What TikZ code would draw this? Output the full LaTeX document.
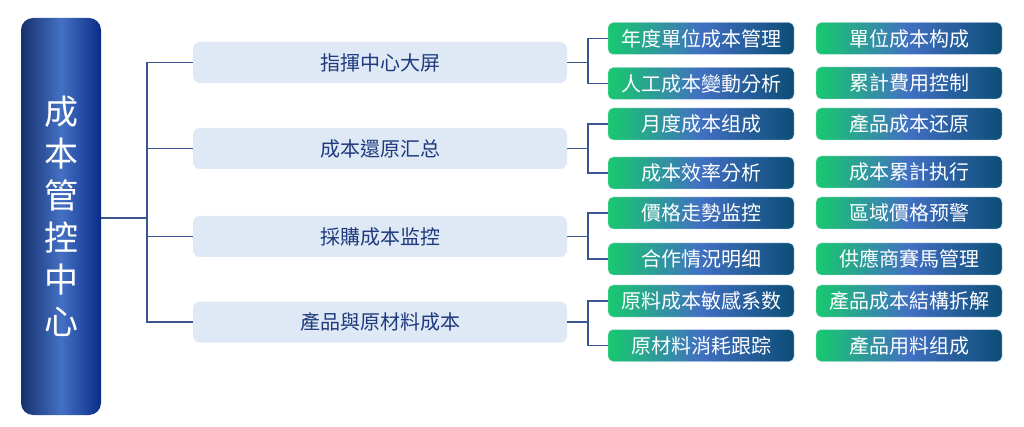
\documentclass[tikz,border=0pt]{standalone}
\usepackage{fontspec}
\setmainfont{Noto Sans CJK TC}
\begin{document}
\begin{tikzpicture}[x=1pt,y=-1pt,
  conn/.style={draw=lineblue,line width=1.1pt},
  mainbox/.style={rounded corners=12pt,left color=navyL,right color=navyR,middle color=navyM,minimum width=80pt,minimum height=397pt,inner sep=0pt},
  midbox/.style={rounded corners=7pt,fill=midfill,minimum width=374pt,minimum height=41pt,inner sep=0pt,text=midtext,font=\fontsize{20}{22}\selectfont},
  leaf/.style={rounded corners=5pt,left color=leafL,right color=leafR,middle color=leafM,draw=white!80!leafM,line width=0.4pt,minimum width=186pt,minimum height=32pt,inner sep=0pt,text=white,font=\fontsize{20}{22}\selectfont}]
\definecolor{navyL}{HTML}{16306E}
\definecolor{navyM}{HTML}{4471C4}
\definecolor{navyR}{HTML}{0A2C86}
\definecolor{midfill}{HTML}{DEE9F5}
\definecolor{midtext}{HTML}{1F3A7E}
\definecolor{lineblue}{HTML}{3A5590}
\definecolor{leafL}{HTML}{18C96E}
\definecolor{leafM}{HTML}{4170C2}
\definecolor{leafR}{HTML}{0C4D76}
\useasboundingbox (0,0) rectangle (1024,427);
\fill[white] (0,0) rectangle (1024,427);
% main
\node[mainbox] (main) at (61,216.5) {};
\node[text=white,font=\fontsize{34}{42}\selectfont,align=center] (maintxt) at (61,216) {成\\本\\管\\控\\中\\心};
% middle
\node[midbox] (m1) at (380,62.5) {指揮中心大屏};
\node[midbox] (m2) at (380,148.5) {成本還原汇总};
\node[midbox] (m3) at (380,236.5) {採購成本监控};
\node[midbox] (m4) at (380,322) {產品與原材料成本};
\coordinate (tr) at (147,218);
\draw[conn] (main.east |- tr) -- (tr);
\draw[conn] (m1.west) -| (tr |- m1.west) |- (m4.west);
\draw[conn] (tr |- m2.west) -- (m2.west);
\draw[conn] (tr |- m3.west) -- (m3.west);
% leaves col 1
\node[leaf] (a1) at (701,38.5) {年度單位成本管理};
\node[leaf] (a2) at (701,83.5) {人工成本變動分析};
\node[leaf] (a3) at (701,124) {月度成本组成};
\node[leaf] (a4) at (701,173) {成本效率分析};
\node[leaf] (a5) at (701,213) {價格走勢监控};
\node[leaf] (a6) at (701,259) {合作情況明细};
\node[leaf] (a7) at (701,301) {原料成本敏感系数};
\node[leaf] (a8) at (701,345.5) {原材料消耗跟踪};
% leaves col 2
\node[leaf] (b1) at (909,38.5) {單位成本构成};
\node[leaf] (b2) at (909,83) {累計費用控制};
\node[leaf] (b3) at (909,124) {產品成本还原};
\node[leaf] (b4) at (909,172) {成本累計执行};
\node[leaf] (b5) at (909,213) {區域價格预警};
\node[leaf] (b6) at (909,259) {供應商賽馬管理};
\node[leaf] (b7) at (909,301) {產品成本結構拆解};
\node[leaf] (b8) at (909,345.5) {產品用料组成};
% right connectors
\foreach \m/\p/\q in {m1/a1/a2,m2/a3/a4,m3/a5/a6,m4/a7/a8}{
  \coordinate (j\m) at (588,0);
  \draw[conn] (\m.east) -- (j\m |- \m.east);
  \draw[conn] (\p.west) -| (j\m |- \p.west) |- (\q.west);
}
\end{tikzpicture}
\end{document}
